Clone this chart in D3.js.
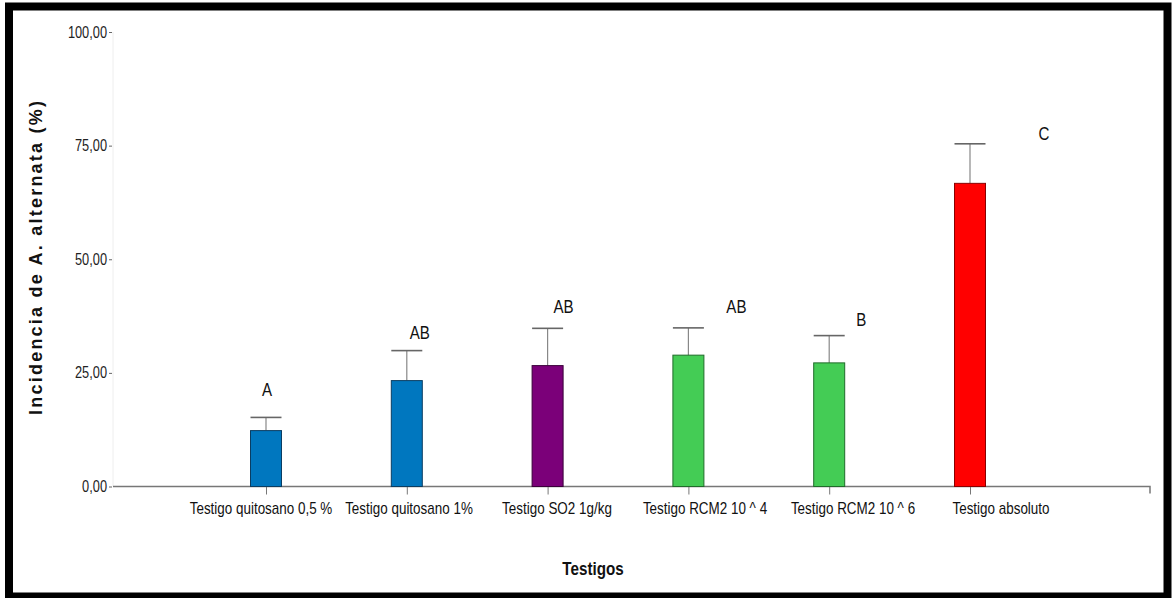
<!DOCTYPE html>
<html>
<head>
<meta charset="utf-8">
<script src="https://cdn.jsdelivr.net/npm/d3@7/dist/d3.min.js"></script>
<style>
  html, body { margin: 0; padding: 0; background: #fff; }
  svg { display: block; }
</style>
</head>
<body>
<svg id="chart" width="1174" height="598"></svg>
<script>
// ---- data ----
const categories = [
  "Testigo quitosano 0,5 %",
  "Testigo quitosano 1%",
  "Testigo SO2 1g/kg",
  "Testigo RCM2 10 ^ 4",
  "Testigo RCM2 10 ^ 6",
  "Testigo absoluto"
];
const means = [12.3, 23.3, 26.6, 28.9, 27.2, 66.7];
const upperErr = [15.2, 29.9, 34.8, 34.9, 33.2, 75.4];
const letters = ["A", "AB", "AB", "AB", "B", "C"];
const letterLevel = [21.2, 33.8, 39.5, 39.5, 36.7, 77.7];
const barColors = ["#0077BF", "#0077BF", "#7B0079", "#44CC55", "#44CC55", "#FF0000"];
const barStroke = ["#0a3d62", "#0a3d62", "#3a003a", "#206b2a", "#206b2a", "#8a0000"];
const yTicks = [0, 25, 50, 75, 100];
const yTickLabels = ["0,00", "25,00", "50,00", "75,00", "100,00"];
const xTitle = "Testigos";
const yTitle = "Incidencia de A. alternata (%)";

// annotation nudges (px) for significance letters
const letterDx = [-1, 11, 14, 46, 30, 72];

const svg = d3.select("#chart");
const W = 1174, H = 598;

// frame
svg.append("rect").attr("x", 0).attr("y", 0).attr("width", W).attr("height", H).attr("fill", "#fff");
svg.append("rect").attr("x", 9).attr("y", 6.5).attr("width", 1158.5).attr("height", 590)
  .attr("fill", "none").attr("stroke", "#000").attr("stroke-width", 8);

const axisLeftX = 113, axisRightX = 1150;
const y = d3.scaleLinear().domain([0, 100]).range([486.5, 32]);
const xBar = d3.scalePoint().domain(categories).range([266, 970]);
const xLab = d3.scalePoint().domain(categories).range([261, 1001]);
const barW = 31;

const sans = "'Liberation Sans', Arial, sans-serif";
const SX = 0.84; // horizontal condensing to mimic a narrow face

// y axis (faint line + short ticks)
const yAxis = d3.axisLeft(y).tickValues(yTicks).tickSize(4).tickFormat("");
const gy = svg.append("g").attr("transform", `translate(${axisLeftX},0)`).call(yAxis);
gy.select(".domain").attr("stroke", "#eeeeee").attr("d", `M0,${y(100)}V${y(0)}`);
gy.selectAll(".tick line").attr("stroke", "#666").attr("x1", -1);
svg.append("g").selectAll("text").data(yTicks).join("text")
  .attr("transform", d => `translate(${axisLeftX - 6},${y(d)}) scale(0.8,1)`)
  .attr("dy", "0.35em").attr("text-anchor", "end")
  .attr("font-family", sans).attr("font-size", 16).attr("fill", "#222")
  .text((d, i) => yTickLabels[i]);

// x axis line + ticks
const gx = svg.append("g").attr("transform", `translate(0,${y(0)})`);
gx.append("path").attr("d", `M${axisLeftX},0H${axisRightX}V7`).attr("fill", "none")
  .attr("stroke", "#777").attr("stroke-width", 1.5);
const xAxis = d3.axisBottom(xBar).tickSize(8).tickFormat("");
const gxt = gx.append("g").call(xAxis);
gxt.select(".domain").remove();
gxt.selectAll(".tick line").attr("stroke", "#777");

// x labels
svg.append("g").selectAll("text").data(categories).join("text")
  .attr("transform", d => `translate(${xLab(d)},514) scale(${SX},1)`)
  .attr("text-anchor", "middle")
  .attr("font-family", sans).attr("font-size", 16).attr("fill", "#111")
  .text(d => d);

// error bars
const eb = svg.append("g");
categories.forEach((c, i) => {
  const cx = xBar(c);
  eb.append("line").attr("x1", cx).attr("x2", cx).attr("y1", y(means[i])).attr("y2", y(upperErr[i]))
    .attr("stroke", "#888").attr("stroke-width", 1.2);
  eb.append("line").attr("x1", cx - barW / 2).attr("x2", cx + barW / 2)
    .attr("y1", y(upperErr[i])).attr("y2", y(upperErr[i]))
    .attr("stroke", "#666").attr("stroke-width", 1.6);
});

// bars
svg.append("g").selectAll("rect").data(categories).join("rect")
  .attr("x", d => xBar(d) - barW / 2)
  .attr("y", (d, i) => y(means[i]))
  .attr("width", barW)
  .attr("height", (d, i) => y(0) - y(means[i]))
  .attr("fill", (d, i) => barColors[i])
  .attr("stroke", (d, i) => barStroke[i]).attr("stroke-width", 1);

// significance letters
svg.append("g").selectAll("text").data(categories).join("text")
  .attr("transform", (d, i) => `translate(${xBar(d) + letterDx[i] + 2},${y(letterLevel[i])}) scale(${SX},1)`)
  .attr("dy", "0.35em")
  .attr("text-anchor", "middle")
  .attr("font-family", sans).attr("font-size", 18).attr("fill", "#111")
  .text((d, i) => letters[i]);

// axis titles
svg.append("text").attr("transform", `translate(593,575) scale(0.8,1)`).attr("text-anchor", "middle")
  .attr("font-family", sans).attr("font-weight", "bold").attr("font-size", 19).attr("fill", "#111")
  .text(xTitle);
svg.append("text").attr("transform", "translate(42,258) rotate(-90)").attr("text-anchor", "middle")
  .attr("font-family", sans).attr("font-weight", "bold")
  .attr("font-size", 18).attr("textLength", 314).attr("lengthAdjust", "spacing").attr("fill", "#111")
  .text(yTitle);
</script>
</body>
</html>
